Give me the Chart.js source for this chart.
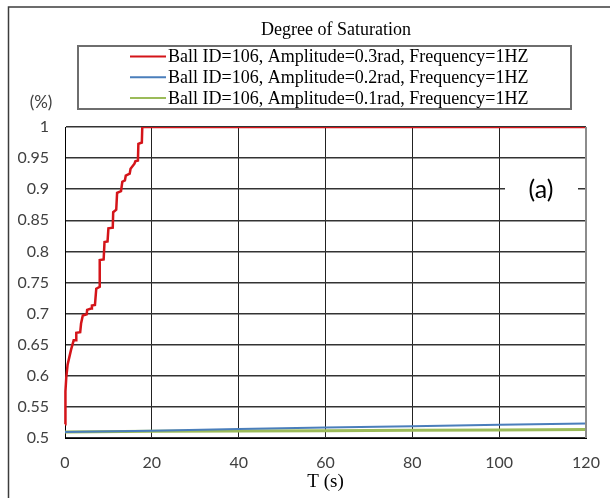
<!DOCTYPE html>
<html>
<head>
<meta charset="utf-8">
<title>Degree of Saturation</title>
<script src="https://cdn.jsdelivr.net/npm/chart.js@4/dist/chart.umd.min.js"></script>
<style>
  html, body { margin: 0; padding: 0; background: #fff; }
  #wrap { width: 610px; height: 498px; }
</style>
</head>
<body>
<div id="wrap"><canvas id="c" width="610" height="498"></canvas></div>
<script>
// Degree of saturation over time for three oscillation amplitudes.
const timeRed = [0, 0.1, 0.3, 0.6, 1.0, 1.4, 1.8, 2.0, 2.6, 2.6, 3.5, 3.7, 4.1, 5.0, 5.1, 6.0, 6.2, 6.9, 7.2, 8.0,
  8.0, 8.9, 9.1, 9.8, 10.0, 11.0, 11.1, 11.8, 12.0, 12.9, 13.2, 13.8, 14.0, 14.9, 15.1, 16.0, 16.2, 16.8, 16.9, 17.7, 17.8, 120];
const satRed = [0.522, 0.575, 0.598, 0.618, 0.630, 0.642, 0.652, 0.657, 0.657, 0.669, 0.670, 0.684, 0.697, 0.699, 0.706, 0.708, 0.713, 0.714, 0.740, 0.743,
  0.786, 0.787, 0.815, 0.816, 0.837, 0.838, 0.863, 0.867, 0.894, 0.897, 0.912, 0.914, 0.922, 0.925, 0.933, 0.941, 0.945, 0.946, 0.973, 0.975, 1.0, 1.0];

const timeBlue = [0, 20, 40, 60, 80, 100, 120];
const satBlue = [0.5097, 0.5118, 0.5143, 0.5168, 0.5190, 0.5213, 0.5235];

const timeGreen = [0, 20, 40, 60, 80, 100, 120];
const satGreen = [0.5097, 0.5108, 0.5113, 0.5118, 0.5124, 0.5129, 0.5138];

const seriesNames = [
  'Ball ID=106, Amplitude=0.3rad, Frequency=1HZ',
  'Ball ID=106, Amplitude=0.2rad, Frequency=1HZ',
  'Ball ID=106, Amplitude=0.1rad, Frequency=1HZ'
];
const seriesColors = ['#d41419', '#4a7ebb', '#9bbb59'];
const seriesWidths = [2.5, 2, 3];

const xTickValues = [0, 20, 40, 60, 80, 100, 120];
const yTickValues = [0.5, 0.55, 0.6, 0.65, 0.7, 0.75, 0.8, 0.85, 0.9, 0.95, 1];

const chartTitle = 'Degree of Saturation';
const xAxisTitle = 'T (s)';
const yAxisUnit = '(%)';
const panelTag = '(a)';

const toPoints = (xs, ys) => xs.map((x, i) => ({ x: x, y: ys[i] }));

// Title, legend box, outer frame, unit label and panel tag.
const decorations = {
  id: 'decorations',
  beforeDraw(chart) {
    const ctx = chart.ctx;
    ctx.save();
    ctx.fillStyle = '#ffffff';
    ctx.fillRect(0, 0, chart.width, chart.height);
    ctx.strokeStyle = '#3c3c3c';
    ctx.lineWidth = 1.5;
    ctx.beginPath();
    ctx.moveTo(8.5, chart.height);
    ctx.lineTo(8.5, 7);
    ctx.lineTo(chart.width, 7);
    ctx.stroke();
    ctx.restore();
  },
  afterDatasetsDraw(chart) {
    const ctx = chart.ctx;
    const area = chart.chartArea;
    ctx.save();

    // panel tag on a white patch
    ctx.fillStyle = '#ffffff';
    ctx.fillRect(505, 170, 73, 42);
    ctx.fillStyle = '#000000';
    ctx.font = '25px Lato';
    ctx.textAlign = 'center';
    ctx.textBaseline = 'middle';
    ctx.fillText(panelTag, 541, 190);

    // chart title
    ctx.font = '18px "Liberation Serif"';
    ctx.fillText(chartTitle, 336, 30);

    // legend
    ctx.strokeStyle = '#6e6e6e';
    ctx.lineWidth = 2;
    ctx.strokeRect(78, 46, 493, 63);
    ctx.font = '18px "Liberation Serif"';
    ctx.textAlign = 'left';
    chart.data.datasets.forEach((ds, i) => {
      const y = 56.5 + i * 20.7;
      ctx.strokeStyle = ds.borderColor;
      ctx.lineWidth = 2;
      ctx.beginPath();
      ctx.moveTo(130, y);
      ctx.lineTo(166, y);
      ctx.stroke();
      ctx.fillStyle = '#000000';
      ctx.fillText(ds.label, 168, y + 1);
    });

    // unit label above the y axis
    ctx.fillStyle = '#404040';
    ctx.font = '17px Lato';
    ctx.textAlign = 'center';
    ctx.fillText(yAxisUnit, 41, 103);

    // keep the right edge of the plot on top
    ctx.strokeStyle = '#8c8c8c';
    ctx.lineWidth = 2;
    ctx.beginPath();
    ctx.moveTo(area.right, area.top);
    ctx.lineTo(area.right, area.bottom);
    ctx.stroke();
    ctx.restore();
  }
};

new Chart(document.getElementById('c'), {
  type: 'line',
  data: {
    datasets: [
      { label: seriesNames[0], data: toPoints(timeRed, satRed) },
      { label: seriesNames[1], data: toPoints(timeBlue, satBlue) },
      { label: seriesNames[2], data: toPoints(timeGreen, satGreen) }
    ].map((ds, i) => Object.assign(ds, {
      borderColor: seriesColors[i],
      backgroundColor: seriesColors[i],
      borderWidth: seriesWidths[i],
      pointRadius: 0,
      tension: 0,
      fill: false,
      clip: { left: 3, top: 0, right: 3, bottom: 3 }
    }))
  },
  options: {
    responsive: false,
    animation: false,
    devicePixelRatio: 1,
    layout: { padding: { left: 0, top: 127, right: 24, bottom: 0 } },
    plugins: {
      legend: { display: false },
      title: { display: false },
      tooltip: { enabled: false }
    },
    scales: {
      x: {
        type: 'linear',
        min: 0,
        max: 120,
        afterBuildTicks: s => { s.ticks = xTickValues.map(v => ({ value: v })); },
        afterFit: s => { s.height = 60; s.paddingLeft = 0; s.paddingRight = 0; },
        grid: {
          drawTicks: false,
          color: '#222222',
          lineWidth: 1
        },
        border: { color: '#000000', width: 1 },
        ticks: {
          padding: 15,
          maxRotation: 0,
          color: '#404040',
          font: { family: 'Lato', size: 16 },
          callback: v => String(v)
        },
        title: {
          display: true,
          text: xAxisTitle,
          color: '#000000',
          font: { family: '"Liberation Serif"', size: 19 },
          padding: { top: 0, bottom: 5 }
        }
      },
      y: {
        type: 'linear',
        min: 0.5,
        max: 1,
        afterBuildTicks: s => { s.ticks = yTickValues.map(v => ({ value: v })); },
        afterFit: s => { s.width = 65; s.paddingTop = 0; s.paddingBottom = 0; },
        grid: {
          drawTicks: false,
          color: '#333333',
          lineWidth: 1.5
        },
        border: { color: '#000000', width: 1 },
        ticks: {
          padding: 16,
          color: '#404040',
          font: { family: 'Lato', size: 16 },
          callback: v => String(Number(v.toFixed(2)))
        }
      }
    }
  },
  plugins: [decorations]
});
</script>
</body>
</html>
